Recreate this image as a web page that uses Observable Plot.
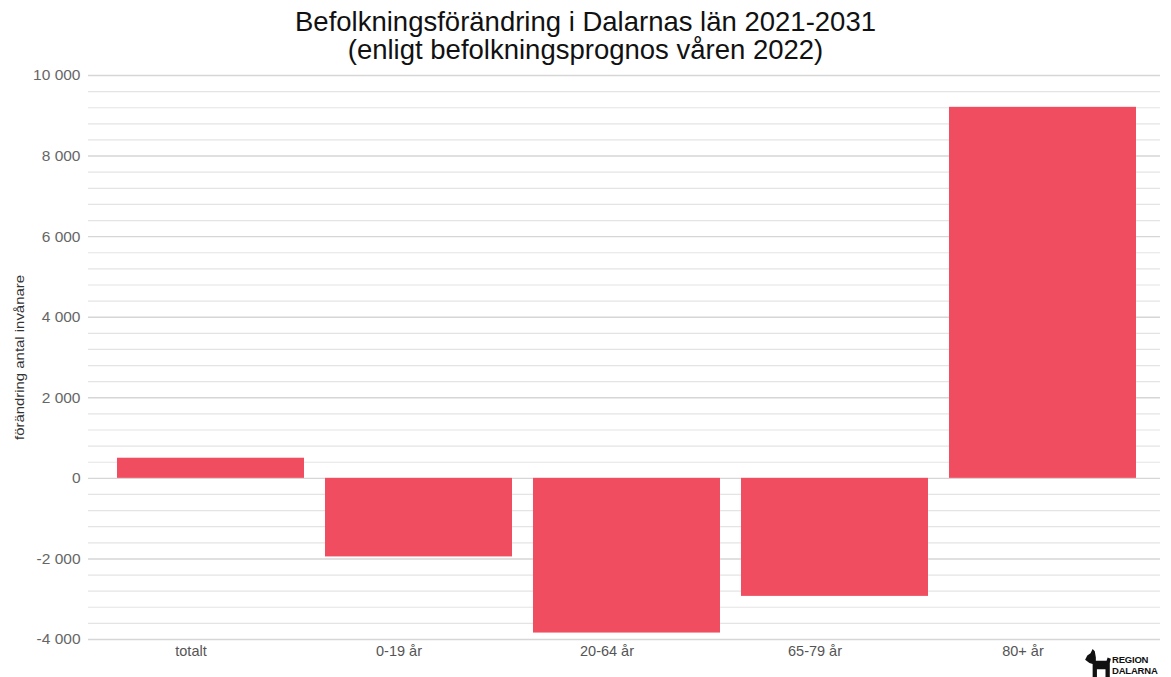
<!DOCTYPE html>
<html>
<head>
<meta charset="utf-8">
<script src="https://cdn.jsdelivr.net/npm/d3@7"></script>
<script src="https://cdn.jsdelivr.net/npm/@observablehq/plot@0.6"></script>
<style>
  html, body { margin: 0; padding: 0; background: #fff; }
  body { width: 1171px; height: 677px; position: relative; overflow: hidden; font-family: "Liberation Sans", Arial, sans-serif; }
  #title { height: 62px; box-sizing: border-box; padding-top: 8px; text-align: center; font-size: 27.5px; line-height: 28px; color: #111; }
  #logo { position: absolute; left: 1084px; top: 649px; display: flex; align-items: flex-start; }
  #logo .txt { font-weight: bold; font-size: 9.5px; line-height: 11px; color: #111; margin-left: 0px; margin-top: 5px; letter-spacing: -0.2px; }
</style>
</head>
<body>
<div id="title">Befolkningsförändring i Dalarnas län 2021-2031<br>(enligt befolkningsprognos våren 2022)</div>
<div id="chart"></div>
<div id="logo">
  <svg width="28" height="30" viewBox="0 0 26 28"><path d="M3 6 L6 4 L8 0 L10 2 L11 8 L11 11 L21 11 L22 8 L25 9 L24 13 L24 28 L20 28 L20 19 L12 19 L12 28 L8 28 L8 14 L5 13 L1 10 Z" fill="#111"/></svg>
  <div class="txt">REGION<br>DALARNA</div>
</div>
<script>
const categories = ["totalt", "0-19 år", "20-64 år", "65-79 år", "80+ år"];
const values = [500, -1950, -3840, -2930, 9210];
const yTicks = [-4000, -2000, 0, 2000, 4000, 6000, 8000, 10000];
const yDomain = [-4000, 10000];
const minorStep = 400;
const yLabel = "förändring antal invånare";

const data = categories.map((c, i) => ({category: c, value: values[i]}));
const minorGrid = d3.range(yDomain[0], yDomain[1] + 1, minorStep).filter(v => !yTicks.includes(v));
const fmt = v => (v < 0 ? "-" : "") + d3.format(",")(Math.abs(v)).replace(/,/g, " ");

const chart = Plot.plot({
  width: 1171,
  height: 615,
  marginTop: 13,
  marginBottom: 38,
  marginLeft: 88,
  marginRight: 11,
  style: {fontFamily: "'Liberation Sans', Arial, sans-serif", fontSize: "14px", color: "#555", background: "#fff"},
  x: {domain: categories, padding: 0.1, insetLeft: 8, insetRight: 3},
  y: {domain: yDomain},
  marks: [
    Plot.ruleY(minorGrid, {stroke: "#e4e4e4", strokeWidth: 1.2}),
    Plot.ruleY(yTicks, {stroke: "#d6d6d6", strokeWidth: 1.4}),
    Plot.barY(data, {x: "category", y: "value", fill: "#F04E60"}),
    Plot.axisX({tickSize: 0, tickPadding: 6, label: null, fontSize: 14.5, dx: -20}),
    Plot.axisY({ticks: yTicks, tickFormat: fmt, tickSize: 0, tickPadding: 8, label: null, fontSize: 15.5, fill: "#666"}),
    Plot.text([yLabel], {frameAnchor: "left", rotate: -90, dx: -68, textAnchor: "middle", fontSize: 12, fill: "#333"})
  ]
});
// stretch the y-axis title along its length, as in the reference
d3.select(chart).selectAll("text").filter(function() { return this.textContent === yLabel; })
  .attr("textLength", 165).attr("lengthAdjust", "spacingAndGlyphs");
document.getElementById("chart").appendChild(chart);
</script>
</body>
</html>
